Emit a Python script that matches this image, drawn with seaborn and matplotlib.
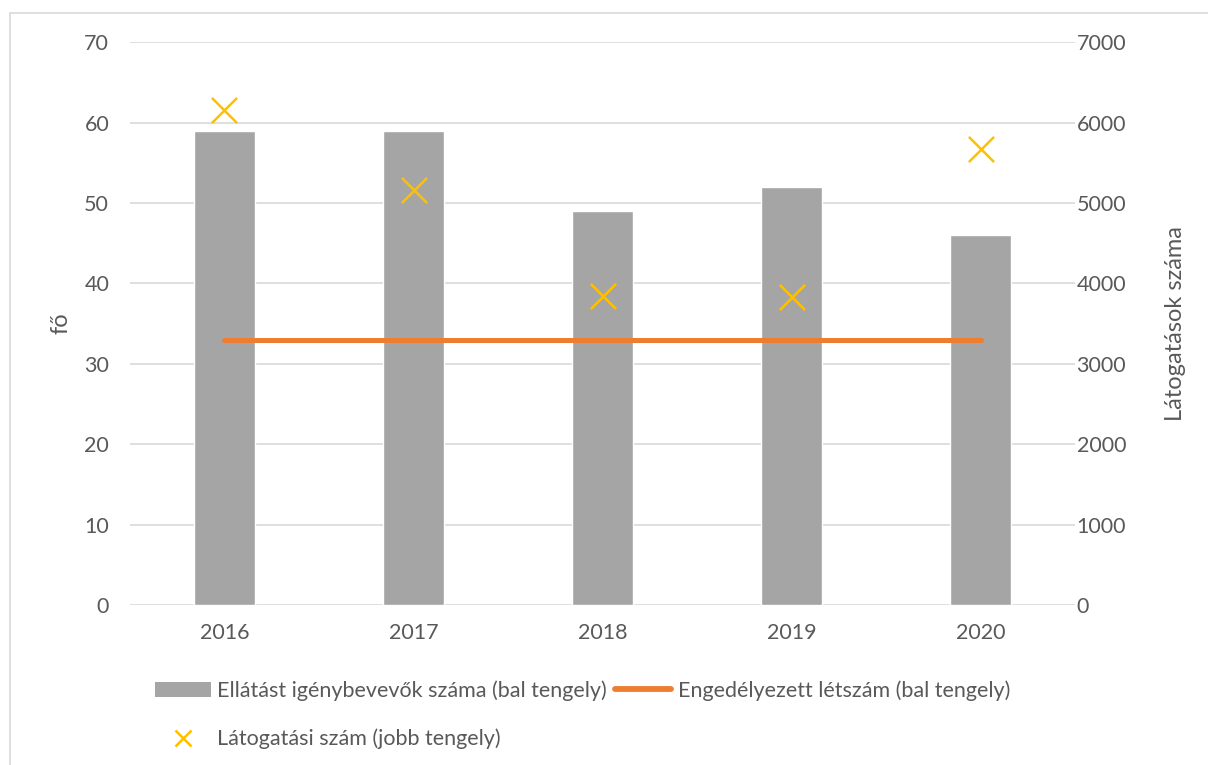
import numpy as np
import pandas as pd
import matplotlib
matplotlib.use("Agg")
import matplotlib.pyplot as plt
from matplotlib.patches import Rectangle
from matplotlib.lines import Line2D
import seaborn as sns

years = ["2016", "2017", "2018", "2019", "2020"]
clients = [59, 59, 49, 52, 46]          # Ellátást igénybevevők száma
licensed = [33, 33, 33, 33, 33]         # Engedélyezett létszám
visits = [6150, 5160, 3840, 3830, 5670]  # Látogatási szám

bar_label = "Ellátást igénybevevők száma (bal tengely)"
line_label = "Engedélyezett létszám (bal tengely)"
visit_label = "Látogatási szám (jobb tengely)"

GRAY_BAR = "#A5A5A5"
ORANGE = "#ED7D31"
GOLD = "#FFC000"
TEXT = "#595959"
GRID = "#D9D9D9"

sns.set_theme(style="white")
plt.rcParams["font.family"] = ["Lato", "DejaVu Sans"]

df = pd.DataFrame({"year": years, "clients": clients,
                   "licensed": licensed, "visits": visits})
pos = np.arange(len(years))

fig = plt.figure(figsize=(12.08, 7.65), dpi=100)
ax = fig.add_axes([0.1076, 0.209, 0.7824, 0.736])

sns.barplot(data=df, x="year", y="clients", color=GRAY_BAR, width=0.32,
            saturation=1, ax=ax, zorder=2)
sns.lineplot(x=pos, y=df["licensed"], color=ORANGE, linewidth=3.6, ax=ax,
             zorder=3, solid_capstyle="round")

ax.set_xlim(-0.5, len(years) - 0.5)
ax.set_ylim(0, 70)
ax.set_yticks(range(0, 71, 10))
ax.grid(axis="y", color=GRID, linewidth=1.2, zorder=0)
ax.set_axisbelow(True)
for s in ax.spines.values():
    s.set_visible(False)
ax.tick_params(axis="both", length=0, colors=TEXT, labelsize=15.5)
ax.tick_params(axis="x", pad=13)
ax.tick_params(axis="y", pad=15)
ax.set_xlabel("")
ax.set_ylabel("fő", color=TEXT, fontsize=17, labelpad=9)

ax2 = ax.twinx()
sns.scatterplot(x=pos, y=df["visits"], marker="x", s=330, color=GOLD,
                linewidth=1.8, ax=ax2, zorder=4)
ax2.set_ylim(0, 7000)
ax2.set_yticks(range(0, 7001, 1000))
for s in ax2.spines.values():
    s.set_visible(False)
ax2.tick_params(axis="y", length=0, colors=TEXT, labelsize=15.5, pad=1)
ax2.set_ylabel("Látogatások száma", color=TEXT, fontsize=17, labelpad=28)
ax2.grid(False)

handles = [
    Rectangle((0, 0), 1, 1, facecolor=GRAY_BAR, edgecolor="none"),
    Line2D([], [], marker="x", color=GOLD, linestyle="none",
           markersize=11, markeredgewidth=1.8),
    Line2D([], [], color=ORANGE, linewidth=4.2, solid_capstyle="round"),
]
labels = [bar_label, visit_label, line_label]
leg = fig.legend(handles, labels, ncol=2, loc="upper left",
                 bbox_to_anchor=(0.128, 0.111), frameon=False, fontsize=15.5,
                 handlelength=2.6, handleheight=0.7, handletextpad=0.3,
                 columnspacing=0.4, labelspacing=1.3, borderpad=0,
                 borderaxespad=0)
for t in leg.get_texts():
    t.set_color(TEXT)

# chart area frame
fig.patches.append(Rectangle((10 / 1208, -0.1), 1.2, 1 - 13 / 765 + 0.1,
                             transform=fig.transFigure, fill=False,
                             edgecolor=GRID, linewidth=1.2))

fig.savefig("out.png", dpi=100, facecolor="white")
